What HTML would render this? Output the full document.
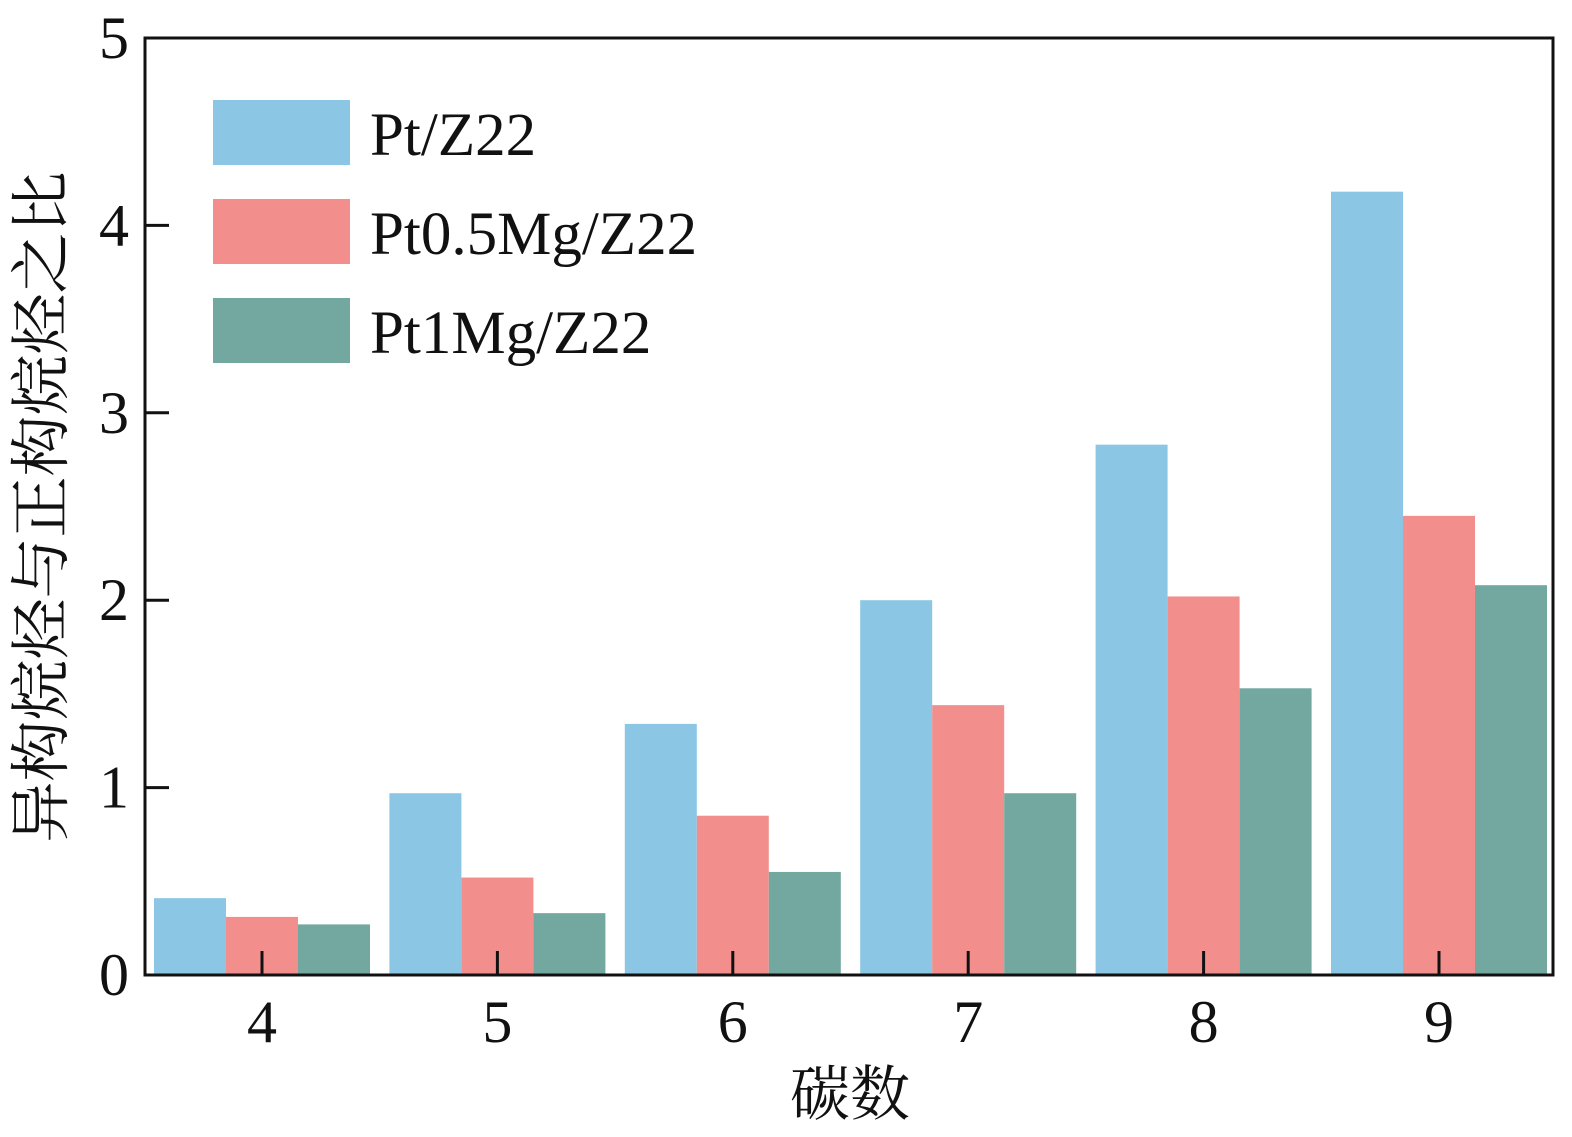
<!DOCTYPE html>
<html><head><meta charset="utf-8"><style>
html,body{margin:0;padding:0;background:#fff;}
svg{display:block;}
text{font-family:"Liberation Serif","Noto Serif CJK SC",serif;fill:#111;}
</style></head><body>
<svg id="chart" width="1572" height="1137">
<g id="bars"></g>
<g id="axes"></g>
<g id="legend"></g>
<text x="850" y="1115" font-size="60" text-anchor="middle">碳数</text>
<text transform="translate(62,507) rotate(-90)" font-size="61" text-anchor="middle">异构烷烃与正构烷烃之比</text>
</svg>
<script>
const categories = ["4","5","6","7","8","9"];
const seriesNames = ["Pt/Z22","Pt0.5Mg/Z22","Pt1Mg/Z22"];
const ptZ22 = [0.41,0.97,1.34,2.0,2.83,4.18];
const pt05Mg = [0.31,0.52,0.85,1.44,2.02,2.45];
const pt1Mg = [0.27,0.33,0.55,0.97,1.53,2.08];
const yTicks = [0,1,2,3,4,5];
const colors = ["#8bc6e4","#f28f8c","#72a89f"];
const series = [ptZ22,pt05Mg,pt1Mg];
const NS="http://www.w3.org/2000/svg";
const L=145,R=1553,T=38,B=975;
const y=v=>B-(v/5)*(B-T);
const step=235.4, x0=262;
const xc=i=>x0+i*step;
const bw=72;
function mk(tag,attrs,parent){const e=document.createElementNS(NS,tag);for(const k in attrs)e.setAttribute(k,attrs[k]);parent.appendChild(e);return e;}
const gb=document.getElementById('bars');
series.forEach((s,si)=>{s.forEach((v,i)=>{
 const r=mk('rect',{x:xc(i)+(si-1.5)*bw,y:y(v),width:bw,height:B-y(v),fill:colors[si]},gb);
 
 
});});
const ga=document.getElementById('axes');
const fr=mk('rect',{x:L,y:T,width:R-L,height:B-T,fill:'none',stroke:'#111','stroke-width':3},ga);


yTicks.forEach(t=>{
 const ln=mk('line',{x1:L,x2:L+24,y1:y(t),y2:y(t),stroke:'#111','stroke-width':3},ga);
 
 
 const tx=mk('text',{x:L-16,y:y(t)+20,'font-size':60,'text-anchor':'end'},ga);
 tx.textContent=t;
 
 
});
categories.forEach((c,i)=>{
 const ln=mk('line',{x1:xc(i),x2:xc(i),y1:B,y2:B-24,stroke:'#111','stroke-width':3},ga);
 
 
 const tx=mk('text',{x:xc(i),y:1042,'font-size':60,'text-anchor':'middle'},ga);
 tx.textContent=c;
 
 
});
const gl=document.getElementById('legend');
seriesNames.forEach((n,i)=>{
 const yy=100+i*99;
 const r=mk('rect',{x:213,y:yy,width:137,height:65,fill:colors[i]},gl);
 
 
 const t=mk('text',{x:370,y:yy+55,'font-size':61},gl);
 t.textContent=n;
 
 
});
</script>
</body></html>
